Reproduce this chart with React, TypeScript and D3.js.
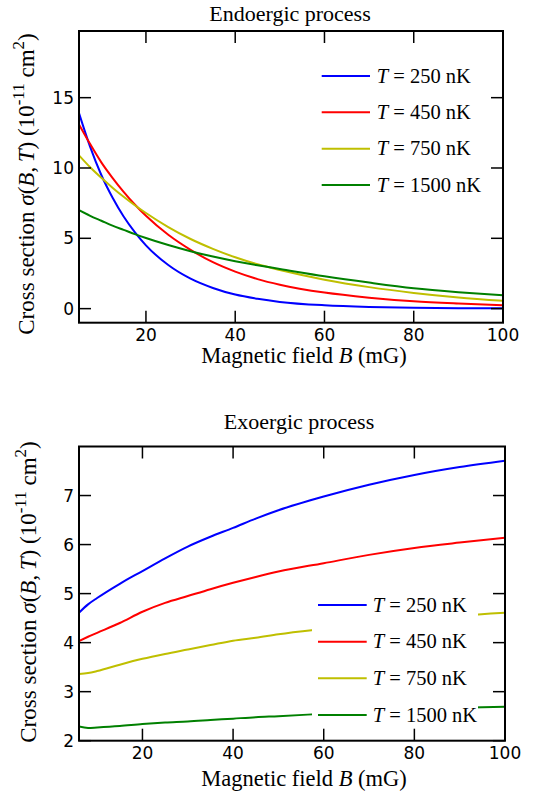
import React from 'react';
import * as d3 from 'd3';

// ---------- Data ----------
const B_ENDO = [5, 7.5, 10, 12.5, 15, 17.5, 20, 25, 30, 35, 40, 45, 50, 60, 70, 80, 90, 100];
const ENDO_250 = [13.9, 11.5, 9.5, 7.9, 6.55, 5.44, 4.5, 3.1, 2.13, 1.47, 1.0, 0.7, 0.48, 0.24, 0.12, 0.06, 0.03, 0.02];
const ENDO_450 = [13.1, 11.7, 10.4, 9.3, 8.3, 7.4, 6.6, 5.25, 4.18, 3.3, 2.63, 2.1, 1.7, 1.14, 0.78, 0.52, 0.36, 0.24];
const ENDO_750 = [10.9, 10.05, 9.3, 8.6, 7.95, 7.35, 6.8, 5.8, 4.95, 4.25, 3.65, 3.15, 2.75, 2.06, 1.53, 1.12, 0.8, 0.56];
const ENDO_1500 = [7.0, 6.6, 6.25, 5.9, 5.6, 5.3, 5.02, 4.52, 4.08, 3.7, 3.37, 3.08, 2.82, 2.3, 1.85, 1.45, 1.17, 0.95];

const B_EXO = [6, 8, 10, 15, 20, 25, 30, 35, 40, 45, 50, 60, 70, 80, 90, 100];
const EXO_250 = [4.61, 4.78, 4.91, 5.2, 5.46, 5.72, 5.96, 6.16, 6.34, 6.53, 6.7, 6.98, 7.22, 7.42, 7.58, 7.71];
const EXO_450 = [4.03, 4.12, 4.2, 4.4, 4.63, 4.81, 4.95, 5.09, 5.22, 5.34, 5.45, 5.62, 5.79, 5.93, 6.04, 6.14];
const EXO_750 = [3.36, 3.38, 3.42, 3.55, 3.67, 3.77, 3.86, 3.95, 4.04, 4.1, 4.17, 4.28, 4.38, 4.47, 4.55, 4.61];
const EXO_1500 = [2.29, 2.26, 2.27, 2.3, 2.34, 2.37, 2.39, 2.42, 2.45, 2.48, 2.5, 2.55, 2.6, 2.64, 2.67, 2.69];

const TEMPS = ['250', '450', '750', '1500'];
const COLORS = ['#0000ff', '#ff0000', '#bfbf00', '#008000'];

const X_TICKS = [20, 40, 60, 80, 100];
const Y_TICKS_ENDO = [0, 5, 10, 15];
const Y_TICKS_EXO = [2, 3, 4, 5, 6, 7];

const SANS = 'DejaVu Sans, sans-serif';
const SERIF = 'Liberation Serif, Times New Roman, serif';

type PanelProps = {
  id: string;
  title: string;
  titleX: number;
  titleY: number;
  left: number; right: number; top: number; bottom: number;
  xDomain: [number, number];
  yDomain: [number, number];
  yTicks: number[];
  xs: number[];
  series: number[][];
  legend: { lineX0: number; lineX1: number; textX: number; rows: number[]; bg?: [number, number, number, number] };
  xLabelY: number;
  yLabelX: number;
  yLabelCY: number;
};

function Panel(p: PanelProps) {
  const x = d3.scaleLinear().domain(p.xDomain).range([p.left, p.right]);
  const y = d3.scaleLinear().domain(p.yDomain).range([p.bottom, p.top]);
  const line = d3.line<number>()
    .x((_, i) => x(p.xs[i]))
    .y((d) => y(d))
    .curve(d3.curveMonotoneX);
  const tl = 12;
  return (
    <g>
      <defs>
        <clipPath id={p.id}>
          <rect x={p.left} y={p.top} width={p.right - p.left} height={p.bottom - p.top} />
        </clipPath>
      </defs>
      <g clipPath={`url(#${p.id})`}>
        {p.series.map((s, i) => (
          <path key={i} d={line(s) || ''} fill="none" stroke={COLORS[i]} strokeWidth={2} />
        ))}
      </g>
      {p.legend.bg && (
        <rect x={p.legend.bg[0]} y={p.legend.bg[1]} width={p.legend.bg[2]} height={p.legend.bg[3]} fill="#fff" />
      )}
      {/* ticks */}
      {X_TICKS.map((t) => (
        <g key={'x' + t}>
          <line x1={x(t)} x2={x(t)} y1={p.bottom} y2={p.bottom - tl} stroke="#000" strokeWidth={1.5} />
          <line x1={x(t)} x2={x(t)} y1={p.top} y2={p.top + tl} stroke="#000" strokeWidth={1.5} />
          <text x={x(t)} y={p.bottom + 18} textAnchor="middle" fontFamily={SANS} fontSize={17} fill="#000">{t}</text>
        </g>
      ))}
      {p.yTicks.map((t) => (
        <g key={'y' + t}>
          <line x1={p.left} x2={p.left + tl} y1={y(t)} y2={y(t)} stroke="#000" strokeWidth={1.5} />
          <line x1={p.right} x2={p.right - tl} y1={y(t)} y2={y(t)} stroke="#000" strokeWidth={1.5} />
          <text x={p.left - 5} y={y(t)} dy="0.36em" textAnchor="end" fontFamily={SANS} fontSize={17} fill="#000">{t}</text>
        </g>
      ))}
      <rect x={p.left} y={p.top} width={p.right - p.left} height={p.bottom - p.top} fill="none" stroke="#000" strokeWidth={2} />
      {/* legend */}
      {TEMPS.map((t, i) => (
        <g key={'l' + t}>
          <line x1={p.legend.lineX0} x2={p.legend.lineX1} y1={p.legend.rows[i]} y2={p.legend.rows[i]} stroke={COLORS[i]} strokeWidth={2} />
          <text x={p.legend.textX} y={p.legend.rows[i]} dy="0.33em" fontFamily={SERIF} fontSize={20.5} fill="#000">
            <tspan fontStyle="italic">T</tspan>
            <tspan>{` = ${t} nK`}</tspan>
          </text>
        </g>
      ))}
      {/* title */}
      <text x={p.titleX} y={p.titleY} textAnchor="middle" fontFamily={SERIF} fontSize={22} fill="#000">{p.title}</text>
      {/* x label */}
      <text x={304} y={p.xLabelY} textAnchor="middle" fontFamily={SERIF} fontSize={22.5} fill="#000">
        <tspan>Magnetic field </tspan>
        <tspan fontStyle="italic">B</tspan>
        <tspan> (mG)</tspan>
      </text>
      {/* y label */}
      <text transform={`translate(${p.yLabelX},${p.yLabelCY}) rotate(-90)`} textAnchor="middle" fontFamily={SERIF} fontSize={23} fill="#000">
        <tspan>Cross section </tspan>
        <tspan fontStyle="italic">σ</tspan>
        <tspan>(</tspan>
        <tspan fontStyle="italic">B</tspan>
        <tspan>,{'\u2009'}</tspan>
        <tspan fontStyle="italic">T</tspan>
        <tspan>) (10</tspan>
        <tspan dy={-10} fontSize={17}>-11</tspan>
        <tspan dy={10}> cm</tspan>
        <tspan dy={-10} fontSize={17}>2</tspan>
        <tspan dy={10}>)</tspan>
      </text>
    </g>
  );
}

export default function App() {
  return (
    <svg width={552} height={797} style={{ position: 'absolute', left: 0, top: 0, background: '#fff' }}>
      <rect x={0} y={0} width={552} height={797} fill="#fff" />
      <Panel
        id="clipTop"
        title="Endoergic process"
        titleX={290}
        titleY={21}
        left={79} right={503} top={31} bottom={322.7}
        xDomain={[5, 100]}
        yDomain={[-1, 19.74]}
        yTicks={Y_TICKS_ENDO}
        xs={B_ENDO}
        series={[ENDO_250, ENDO_450, ENDO_750, ENDO_1500]}
        legend={{ lineX0: 321.7, lineX1: 370, textX: 376.7, rows: [76, 112.3, 148.7, 185] }}
        xLabelY={363}
        yLabelX={34}
        yLabelCY={184}
      />
      <Panel
        id="clipBot"
        title="Exoergic process"
        titleX={299}
        titleY={429}
        left={79} right={505} top={446.5} bottom={740.7}
        xDomain={[6, 100]}
        yDomain={[2, 8]}
        yTicks={Y_TICKS_EXO}
        xs={B_EXO}
        series={[EXO_250, EXO_450, EXO_750, EXO_1500]}
        legend={{ lineX0: 318, lineX1: 366.7, textX: 372.7, rows: [605, 641.7, 678.3, 715], bg: [312, 588, 166, 145] }}
        xLabelY={786}
        yLabelX={36}
        yLabelCY={592}
      />
    </svg>
  );
}
